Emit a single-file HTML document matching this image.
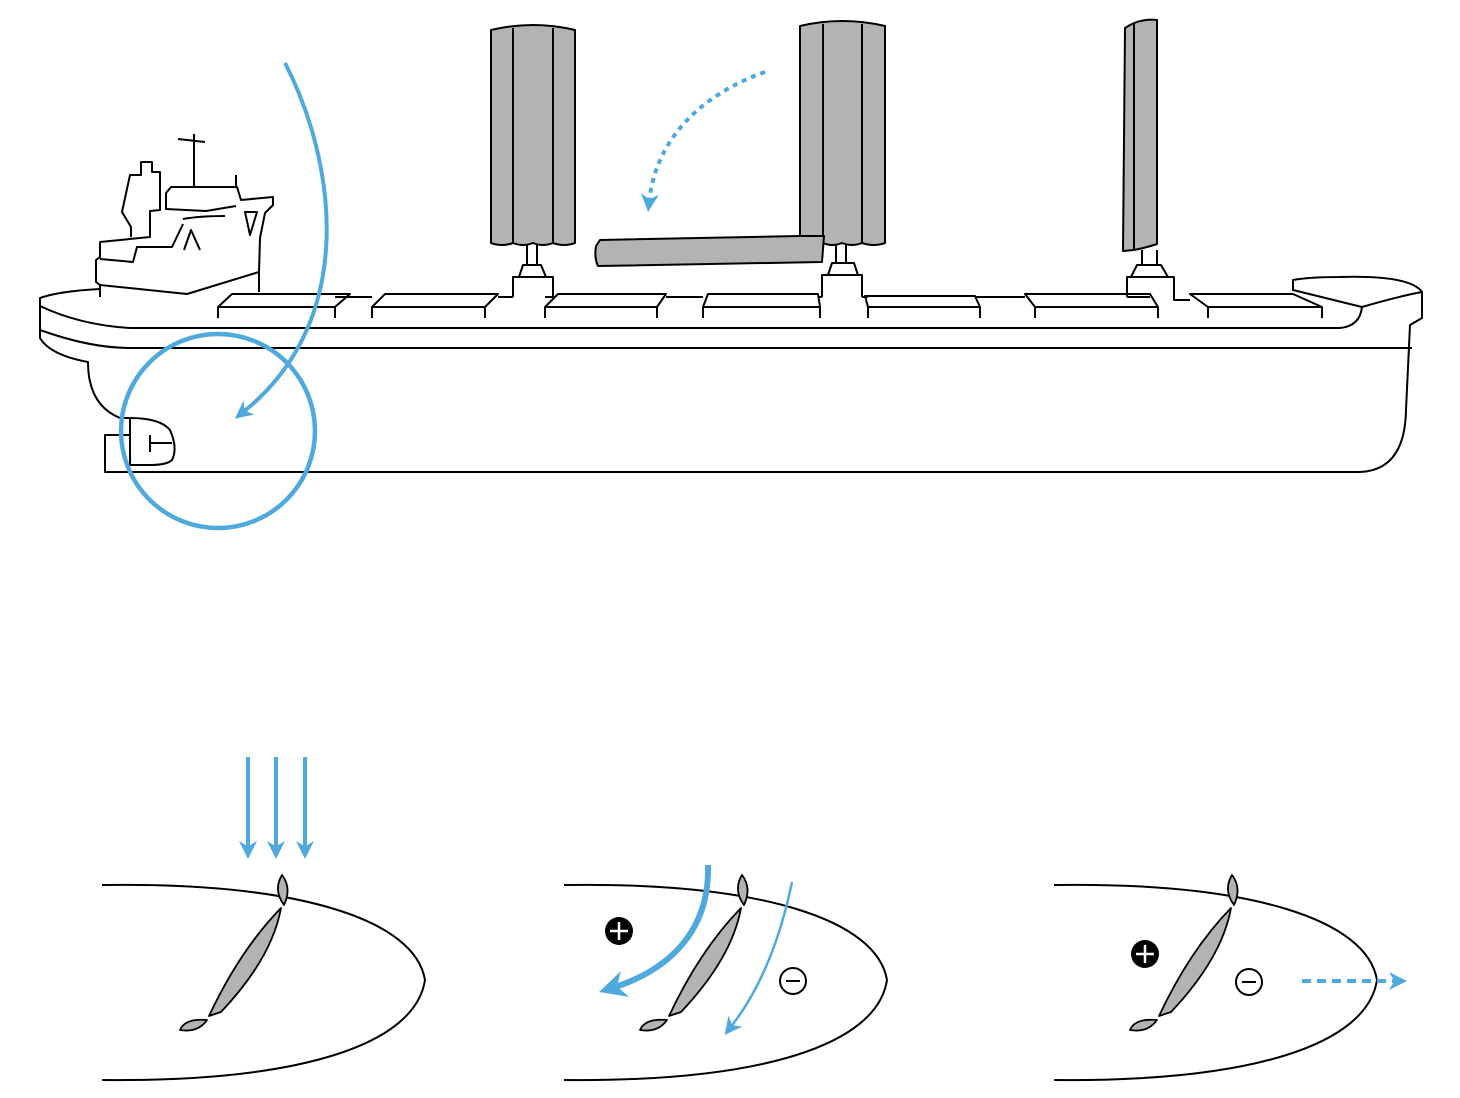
<!DOCTYPE html>
<html><head><meta charset="utf-8"><style>html,body{margin:0;padding:0;background:#fff}svg{display:block}</style></head>
<body>
<svg width="1460" height="1098" viewBox="0 0 1460 1098" xmlns="http://www.w3.org/2000/svg">
<defs>
<marker id="ah" viewBox="0 0 10 10" refX="5" refY="5" markerWidth="4.5" markerHeight="4.5" orient="auto-start-reverse" markerUnits="strokeWidth"><path d="M0,0 L10,5 L0,10 L3,5 z" fill="#4fa9dd"/></marker>
<marker id="ah2" viewBox="0 0 10 10" refX="5" refY="5" markerWidth="7" markerHeight="7" orient="auto" markerUnits="strokeWidth"><path d="M0,0 L10,5 L0,10 L3,5 z" fill="#4fa9dd"/></marker>
</defs>
<g fill="none" stroke="#000" stroke-width="2" stroke-linejoin="round">
<path d="M491,30 Q533,20 575,30 L575,243 Q564,247 553,243 Q543,247 533,243 Q523,247 513,243 Q502,247 491,243 Z" fill="#b3b3b3"/>
<path d="M513,28 L513,243 M553,28 L553,243"/>
<path d="M800,26 Q842,16 885,26 L885,243 Q874,247 862,243 Q852,247 842,243 Q832,247 823,243 Q812,247 800,243 Z" fill="#b3b3b3"/>
<path d="M823,24 L823,243 M862,24 L862,243"/>
<path d="M1125,28 Q1140,18 1157,20 L1157,244 Q1145,248 1134,250 L1123,251 Z" fill="#b3b3b3"/>
<path d="M1134,24 L1134,250"/>
<path d="M600,240 L800,236 L824,236 L822,262 L598,266 Q594,258 596,246 Z" fill="#b3b3b3"/>
<path d="M527,245 L527,265 M537,245 L537,265 M519,277 L523,265 L541,265 L546,277 Z M513,297 L513,277 L553,277 L553,297"/>
<path d="M836,245 L836,263 M846,245 L846,263 M828,275 L832,263 L854,263 L858,275 Z M822,297 L822,275 L862,275 L862,297"/>
<path d="M1142,250 L1142,265 M1157,250 L1157,265 M1131,277 L1137,265 L1161,265 L1168,277 Z M1127,297 L1127,277 L1174,277 L1174,300 L1190,300"/>
<path d="M218,318 L218,307 L232,294 L350,294 L335,307 L335,318 M218,307 L335,307"/>
<path d="M372,318 L372,307 L385,294 L498,294 L485,307 L485,318 M372,307 L485,307"/>
<path d="M545,318 L545,307 L558,294 L666,294 L657,307 L657,318 M545,307 L657,307"/>
<path d="M703,318 L703,307 L708,294 L818,294 L820,307 L820,318 M703,307 L820,307"/>
<path d="M868,318 L868,307 L865,296 L975,296 L980,307 L980,318 M868,307 L980,307"/>
<path d="M1035,318 L1035,307 L1025,294 L1150,294 L1158,307 L1158,318 M1035,307 L1158,307"/>
<path d="M1208,318 L1208,307 L1190,294 L1293,294 L1322,307 L1322,318 M1208,307 L1322,307"/>
<path d="M335,297 L372,297 M498,297 L513,297 M553,297 L545,297 M666,297 L703,297 M818,297 L822,297 M862,297 L868,297 M975,297 L1025,297 M1150,297 L1127,297"/>
<path d="M100,289 Q60,291 40,298 L40,338 Q50,355 88,362 Q88,405 120,418 L130,418"/>
<path d="M40,306 Q80,325 130,328 L1340,328 Q1360,326 1362,307"/>
<path d="M40,330 Q90,348 130,348 L1412,348"/>
<path d="M130,418 Q160,418 170,430 Q178,448 172,460 Q167,465 150,465 L130,465 L130,418 M130,435 L105,435 L105,472 L1360,472 Q1405,470 1406,410 L1410,325 L1422,318 L1422,292 Q1410,275 1340,277 Q1310,277 1293,280 L1293,290 L1362,307 Q1400,296 1422,292 M150,435 L150,452 M150,443 L172,443"/>
<path d="M100,297 L100,285 L96,282 L96,260 L100,257 L100,242 L150,237 L150,211 L160,210 L160,172 L152,172 L152,162 L141,162 L141,175 L130,175 L122,212 L131,227 L131,237"/>
<path d="M100,285 L187,294 L259,272 L259,292 M259,272 L260,238 L265,213 L273,205 L273,197 L241,200 L237,187 L171,187 L166,193 L166,210"/>
<path d="M166,209 L206,211 L236,206 M183,219 Q200,216 225,216 M245,212 L257,212 L250,235 Z M184,250 L191,230 L200,250 M100,259 L133,262 L137,247 L172,247 L183,224 M194,134 L194,186 M178,139 L205,142 M236,175 L236,187"/>
</g>
<g fill="none" stroke="#4fa9dd" stroke-width="4">
<circle cx="218" cy="431" r="97" stroke-width="4.5"/>
<path d="M285,63 C335,160 360,320 242,413" marker-end="url(#ah)"/>
<path d="M765,72 C700,95 655,140 649,203" stroke-dasharray="5,5" marker-end="url(#ah)"/>
</g>
<g fill="none" stroke="#000" stroke-width="2">
<path d="M102,885 C300,882 415,920 425,980 C415,1045 300,1082 102,1080"/>
<path d="M564,885 C762,882 877,920 887,980 C877,1045 762,1082 564,1080"/>
<path d="M1054,885 C1252,882 1367,920 1377,980 C1367,1045 1252,1082 1054,1080"/>
</g>
<g id="foil" fill="#b3b3b3" stroke="#000" stroke-width="1.8" stroke-linejoin="round">
<path d="M282,875 Q273,890 284,905 Q292,888 282,875 Z"/>
<path d="M281,908 Q240,950 209,1016 L221,1012 Q272,958 281,908 Z"/>
<path d="M207,1020 Q185,1018 180,1030 Q198,1033 207,1020 Z"/>
</g>
<use href="#foil" x="460"/>
<use href="#foil" x="950"/>
<g fill="none" stroke="#4fa9dd" stroke-width="4">
<path d="M248,757 L248,850" marker-end="url(#ah)"/>
<path d="M276,757 L276,850" marker-end="url(#ah)"/>
<path d="M305,757 L305,850" marker-end="url(#ah)"/>
<path d="M708,865 C710,930 670,970 612,988" stroke-width="6" marker-end="url(#ah)"/>
<path d="M792,882 C780,940 760,990 730,1028" stroke-width="2.5" marker-end="url(#ah2)"/>
<path d="M1302,981 L1398,981" stroke-dasharray="9,6" marker-end="url(#ah)"/>
</g>
<g>
<circle cx="619" cy="931" r="14" fill="#000"/><path d="M610,931 H628 M619,922 V940" stroke="#fff" stroke-width="2.5"/>
<circle cx="1145" cy="954" r="14" fill="#000"/><path d="M1136,954 H1154 M1145,945 V963" stroke="#fff" stroke-width="2.5"/>
<circle cx="793" cy="981" r="13" fill="#fff" stroke="#000" stroke-width="2"/><path d="M786,981 H800" stroke="#000" stroke-width="2"/>
<circle cx="1249" cy="982" r="13" fill="#fff" stroke="#000" stroke-width="2"/><path d="M1242,982 H1256" stroke="#000" stroke-width="2"/>
</g>
</svg>
</body></html>
